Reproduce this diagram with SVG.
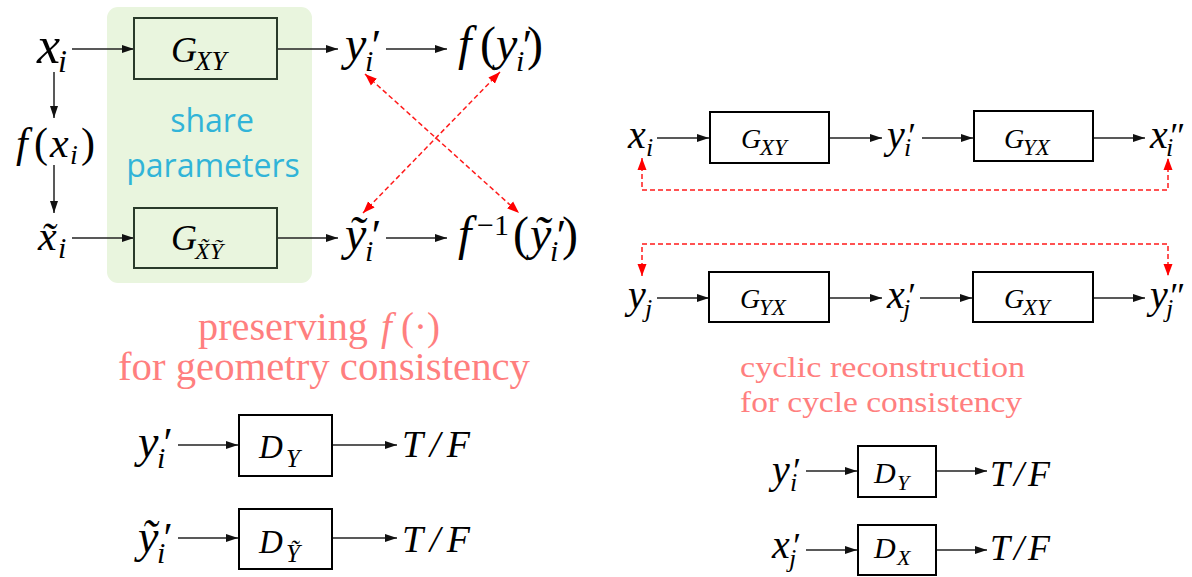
<svg xmlns="http://www.w3.org/2000/svg" width="1192" height="577" viewBox="0 0 1192 577">
<style>
.m{font-family:"Liberation Serif",serif;font-style:italic;fill:#000}
.u{font-style:normal}
.cap{font-family:"Liberation Serif",serif;fill:#ff7f7f}
.share{font-family:"Open Sans","Liberation Sans",sans-serif;fill:#31b4d8;text-anchor:middle}
.boxg{fill:none;stroke:#2a3a2a;stroke-width:2}
.box{fill:#fff;stroke:#000;stroke-width:2}
.ln{fill:none;stroke:#222;stroke-width:1.5;marker-end:url(#ah)}
.rd{fill:none;stroke:#ff1a1a;stroke-width:1.5;stroke-dasharray:5 3;marker-start:url(#rh);marker-end:url(#rh)}
</style>
<defs>
<marker id="ah" viewBox="0 0 12 10" refX="12" refY="5" markerWidth="12" markerHeight="10" markerUnits="userSpaceOnUse" orient="auto"><path d="M0,1 L12,5 L0,9z" fill="#111"/></marker>
<marker id="rh" viewBox="0 0 12 10" refX="12" refY="5" markerWidth="12" markerHeight="10" markerUnits="userSpaceOnUse" orient="auto-start-reverse"><path d="M0,0.5 L12,5 L0,9.5z" fill="#ff0000"/></marker>
</defs>
<rect width="1192" height="577" fill="#fff"/>

<g id="share-bg">
<rect x="107" y="7" width="205" height="276" rx="11" fill="#e9f5de"/>
<text class="share" x="212" y="132" font-size="32">share</text>
<text class="share" x="213" y="177" font-size="32">parameters</text>
</g>

<g id="connectors">
<line class="ln" x1="72" y1="49" x2="134" y2="49"/>
<line class="ln" x1="54" y1="72" x2="54" y2="118"/>
<line class="ln" x1="54" y1="165" x2="54" y2="213"/>
<line class="ln" x1="72" y1="238" x2="134" y2="238"/>
<line class="ln" x1="277" y1="49" x2="338" y2="49"/>
<line class="ln" x1="386" y1="49" x2="447" y2="49"/>
<line class="ln" x1="277" y1="238" x2="338" y2="238"/>
<line class="ln" x1="386" y1="238" x2="447" y2="238"/>
<line class="rd" x1="365" y1="74" x2="519" y2="213"/>
<line class="rd" x1="500" y1="72" x2="363" y2="213"/>

<line class="ln" x1="657" y1="138" x2="709" y2="138"/>
<line class="ln" x1="829" y1="138" x2="882" y2="138"/>
<line class="ln" x1="922" y1="138" x2="973" y2="138"/>
<line class="ln" x1="1093" y1="138" x2="1145" y2="138"/>
<line class="ln" x1="657" y1="298" x2="709" y2="298"/>
<line class="ln" x1="829" y1="298" x2="882" y2="298"/>
<line class="ln" x1="920" y1="298" x2="972" y2="298"/>
<line class="ln" x1="1093" y1="298" x2="1145" y2="298"/>
<path class="rd" d="M642,158 V190 H1168 V158"/>
<path class="rd" d="M642,276 V244 H1168 V276"/>

<line class="ln" x1="178" y1="445" x2="238" y2="445"/>
<line class="ln" x1="332" y1="445" x2="397" y2="445"/>
<line class="ln" x1="178" y1="538" x2="238" y2="538"/>
<line class="ln" x1="332" y1="538" x2="397" y2="538"/>
<line class="ln" x1="806" y1="471" x2="857" y2="471"/>
<line class="ln" x1="936" y1="471" x2="987" y2="471"/>
<line class="ln" x1="806" y1="550" x2="857" y2="550"/>
<line class="ln" x1="936" y1="550" x2="987" y2="550"/>
</g>

<g id="tl-xi"><text class="m" x="37" y="63" font-size="52">x<tspan x="58" y="72" font-size="32">i</tspan></text></g>
<g id="tl-fxi"><text class="m" x="16" y="157" font-size="42">f<tspan class="u" x="34">(</tspan><tspan x="50">x</tspan><tspan x="70" y="164" font-size="28">i</tspan><tspan class="u" x="81" y="157">)</tspan></text></g>
<g id="tl-xti"><text class="m" x="38" y="250" font-size="42">x&#x303;<tspan x="58" y="258" font-size="30">i</tspan></text></g>

<g id="tl-gxy"><rect class="boxg" x="134" y="18" width="143" height="61"/><text class="m" x="171" y="62" font-size="36">G<tspan x="195" y="70" font-size="27">XY</tspan></text></g>
<g id="tl-gxyt"><rect class="boxg" x="134" y="208" width="143" height="60"/><text class="m" x="171" y="250" font-size="36">G<tspan x="195" y="259" font-size="24">X&#x303;&#x1EF8;</tspan></text></g>

<g id="tl-yi"><text class="m" x="345" y="60" font-size="48">y<tspan x="369" font-size="44">′</tspan><tspan x="365" y="71" font-size="30">i</tspan></text></g>
<g id="tl-fyi"><text class="m" x="458" y="60" font-size="48">f<tspan class="u" x="480">(</tspan><tspan x="496">y</tspan><tspan x="520" font-size="44">′</tspan><tspan x="516" y="71" font-size="30">i</tspan><tspan class="u" x="527" y="60">)</tspan></text></g>
<g id="tl-yti"><text class="m" x="345" y="250" font-size="48">&#x1EF9;<tspan x="369" font-size="44">′</tspan><tspan x="365" y="261" font-size="30">i</tspan></text></g>
<g id="tl-finv"><text class="m" x="458" y="250" font-size="48">f<tspan class="u" x="477" y="235" font-size="30">−1</tspan><tspan class="u" x="513" y="250">(</tspan><tspan x="530">&#x1EF9;</tspan><tspan x="554" font-size="44">′</tspan><tspan x="550" y="261" font-size="30">i</tspan><tspan class="u" x="562" y="250">)</tspan></text></g>

<g id="cap-left">
<text class="cap" x="198" y="340" font-size="39" textLength="170" lengthAdjust="spacingAndGlyphs">preserving</text>
<text class="cap" x="381" y="340" font-size="39"><tspan font-style="italic">f</tspan><tspan x="401">(·)</tspan></text>
<text class="cap" x="118" y="380" font-size="39" textLength="412" lengthAdjust="spacingAndGlyphs">for geometry consistency</text>
</g>

<g id="tr-xi"><text class="m" x="628" y="148" font-size="40">x<tspan x="646" y="156" font-size="26">i</tspan></text></g>
<g id="tr-gxy"><rect class="box" x="710" y="112" width="119" height="51"/><text class="m" x="741" y="148" font-size="28">G<tspan x="760" y="155" font-size="23">XY</tspan></text></g>
<g id="tr-yi"><text class="m" x="887" y="148" font-size="40">y<tspan x="906" font-size="36">′</tspan><tspan x="904" y="156" font-size="26">i</tspan></text></g>
<g id="tr-gyx"><rect class="box" x="974" y="111" width="119" height="50"/><text class="m" x="1004" y="148" font-size="28">G<tspan x="1023" y="155" font-size="23">YX</tspan></text></g>
<g id="tr-xii"><text class="m" x="1150" y="148" font-size="40">x<tspan x="1168" font-size="36">″</tspan><tspan x="1166" y="156" font-size="26">i</tspan></text></g>

<g id="tr-yj"><text class="m" x="628" y="308" font-size="40">y<tspan x="645" y="317" font-size="26">j</tspan></text></g>
<g id="tr-gyx2"><rect class="box" x="709" y="272" width="120" height="50"/><text class="m" x="740" y="308" font-size="28">G<tspan x="759" y="315" font-size="23">YX</tspan></text></g>
<g id="tr-xj"><text class="m" x="887" y="308" font-size="40">x<tspan x="906" font-size="36">′</tspan><tspan x="903" y="317" font-size="26">j</tspan></text></g>
<g id="tr-gxy2"><rect class="box" x="973" y="272" width="120" height="50"/><text class="m" x="1004" y="308" font-size="28">G<tspan x="1023" y="315" font-size="23">XY</tspan></text></g>
<g id="tr-yjj"><text class="m" x="1150" y="308" font-size="40">y<tspan x="1168" font-size="36">″</tspan><tspan x="1166" y="317" font-size="26">j</tspan></text></g>

<g id="cap-right">
<text class="cap" x="740" y="377" font-size="30" textLength="285" lengthAdjust="spacingAndGlyphs">cyclic reconstruction</text>
<text class="cap" x="740" y="412" font-size="30" textLength="282" lengthAdjust="spacingAndGlyphs">for cycle consistency</text>
</g>

<g id="bl-yi"><text class="m" x="138" y="457" font-size="46">y<tspan x="161" font-size="42">′</tspan><tspan x="157" y="468" font-size="30">i</tspan></text></g>
<g id="bl-dy"><rect class="box" x="239" y="415" width="93" height="61"/><text class="m" x="259" y="458" font-size="33">D<tspan x="286" y="467" font-size="25">Y</tspan></text></g>
<g id="bl-tf1"><text class="m" x="402" y="457" font-size="38" textLength="68">T/F</text></g>
<g id="bl-yti"><text class="m" x="138" y="552" font-size="46">&#x1EF9;<tspan x="161" font-size="42">′</tspan><tspan x="157" y="563" font-size="30">i</tspan></text></g>
<g id="bl-dyt"><rect class="box" x="239" y="509" width="93" height="60"/><text class="m" x="259" y="553" font-size="33">D<tspan x="286" y="562" font-size="25">&#x1EF8;</tspan></text></g>
<g id="bl-tf2"><text class="m" x="402" y="552" font-size="38" textLength="68">T/F</text></g>

<g id="br-yi"><text class="m" x="772" y="483" font-size="40">y<tspan x="791" font-size="36">′</tspan><tspan x="790" y="491" font-size="26">i</tspan></text></g>
<g id="br-dy"><rect class="box" x="858" y="446" width="78" height="51"/><text class="m" x="874" y="483" font-size="30">D<tspan x="897" y="490" font-size="22">Y</tspan></text></g>
<g id="br-tf1"><text class="m" x="990" y="486" font-size="36" textLength="60">T/F</text></g>
<g id="br-xj"><text class="m" x="772" y="558" font-size="40">x<tspan x="791" font-size="36">′</tspan><tspan x="789" y="567" font-size="26">j</tspan></text></g>
<g id="br-dx"><rect class="box" x="858" y="525" width="78" height="50"/><text class="m" x="874" y="558" font-size="30">D<tspan x="897" y="565" font-size="22">X</tspan></text></g>
<g id="br-tf2"><text class="m" x="990" y="560" font-size="36" textLength="60">T/F</text></g>
</svg>
